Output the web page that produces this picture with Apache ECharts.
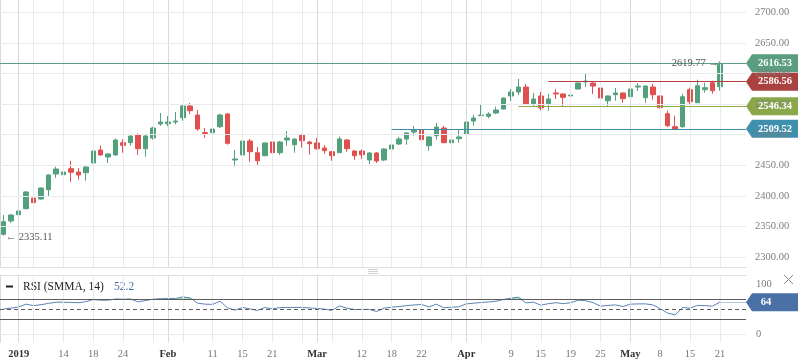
<!DOCTYPE html>
<html><head><meta charset="utf-8">
<script src="https://cdn.jsdelivr.net/npm/echarts@6/dist/echarts.min.js"></script>
<style>html,body{margin:0;padding:0;background:#fff}#c{width:798px;height:363px}</style>
</head><body><div id="c"></div>
<script>
// ---- data ----
const opens  = [2337.1,2358.9,2369.2,2379.0,2396.5,2394.8,2410.0,2435.7,2434.5,2444.4,2438.9,2437.8,2453.7,2474.9,2463.5,2466.8,2486.9,2486.9,2499.9,2477.1,2494.5,2517.4,2517.9,2520.7,2527.7,2546.8,2532.1,2503.5,2503.2,2513.0,2533.8,2458.6,2466.8,2489.6,2470.5,2465.6,2488.0,2470.5,2491.3,2483.6,2499.4,2488.0,2486.4,2478.2,2472.1,2470.5,2491.3,2473.3,2473.3,2458.6,2470.0,2458.6,2476.6,2484.7,2492.9,2504.3,2507.6,2482.0,2498.3,2510.9,2486.9,2493.4,2501.6,2522.3,2531.0,2530.0,2535.4,2541.9,2563.2,2569.7,2577.9,2550.6,2563.2,2550.6,2568.1,2566.5,2563.2,2574.6,2586.1,2584.4,2576.3,2555.5,2565.3,2568.1,2562.0,2577.9,2560.4,2577.9,2563.2,2534.3,2513.0,2513.0,2573.5,2552.2,2573.5,2584.9,2578.4];
const closes = [2357.7,2368.7,2375.2,2406.3,2388.8,2412.8,2434.1,2443.9,2438.9,2438.5,2434.1,2447.1,2473.3,2466.8,2468.4,2491.3,2482.6,2497.8,2477.1,2497.8,2510.9,2520.7,2520.7,2522.3,2546.8,2539.2,2509.3,2501.9,2509.3,2532.1,2485.9,2460.2,2489.6,2472.1,2457.4,2486.4,2470.5,2488.0,2494.5,2492.9,2490.1,2485.2,2477.1,2473.8,2465.6,2492.9,2477.1,2465.6,2467.2,2470.0,2457.0,2476.6,2483.1,2492.9,2502.7,2507.6,2491.8,2496.2,2512.5,2486.9,2491.3,2496.2,2520.7,2527.2,2532.1,2533.8,2540.3,2559.9,2569.7,2577.9,2550.6,2558.3,2543.6,2558.3,2566.5,2561.1,2564.8,2584.4,2587.7,2579.5,2559.9,2563.2,2568.1,2558.8,2574.6,2579.5,2579.5,2565.3,2544.1,2514.6,2509.3,2562.0,2553.9,2580.0,2576.8,2571.8,2616.53];
const lows   = [2335.11,2356.1,2349.6,2377.7,2374.1,2393.7,2398.6,2429.6,2417.7,2422.6,2426.4,2424.8,2450.4,2466.0,2453.7,2465.6,2470.5,2482.0,2466.8,2464.0,2491.8,2514.6,2513.7,2516.9,2522.8,2533.8,2506.5,2495.0,2502.7,2510.9,2483.6,2447.6,2466.0,2455.8,2449.9,2465.0,2462.3,2467.2,2482.0,2470.5,2478.7,2467.2,2475.4,2468.9,2457.4,2470.0,2472.1,2459.0,2460.7,2452.0,2453.7,2457.0,2466.8,2483.1,2483.6,2498.3,2485.2,2473.8,2491.8,2486.4,2485.2,2486.9,2499.9,2514.6,2530.5,2526.7,2533.8,2541.0,2555.0,2564.8,2549.6,2545.2,2539.8,2539.2,2558.3,2546.8,2559.9,2574.0,2577.9,2566.5,2558.3,2546.8,2555.5,2552.2,2557.1,2571.4,2552.2,2557.1,2543.1,2512.5,2508.1,2511.4,2548.5,2551.7,2568.6,2566.9,2571.8];
const highs  = [2368.7,2369.8,2387.1,2407.9,2403.0,2413.3,2435.2,2447.6,2439.8,2456.9,2445.5,2448.0,2474.0,2482.0,2469.0,2493.4,2492.4,2498.6,2502.2,2501.1,2513.0,2535.4,2530.5,2537.0,2548.5,2551.7,2540.3,2510.9,2520.7,2534.3,2535.4,2474.9,2490.5,2492.9,2479.8,2487.0,2492.9,2489.6,2506.0,2493.7,2501.6,2489.6,2494.5,2483.1,2473.3,2496.7,2492.9,2474.9,2475.7,2471.7,2471.7,2477.4,2488.0,2496.2,2504.3,2514.2,2508.4,2497.8,2519.0,2514.2,2496.2,2508.1,2525.6,2532.1,2548.5,2536.5,2545.7,2560.5,2574.6,2591.0,2582.8,2568.1,2569.7,2566.5,2574.6,2567.3,2567.6,2585.0,2599.2,2585.3,2584.4,2564.0,2576.3,2569.0,2579.5,2584.4,2580.4,2582.8,2564.0,2539.2,2531.0,2566.9,2576.8,2589.8,2584.9,2588.2,2619.77];
const rsi    = [50.5,52,54.5,60,57,59,61.5,64,64,63.5,63,65,69.3,68,68,70.5,70,70.5,64.6,67.3,70,71,71.3,71.3,74.6,72.5,62,60,59.5,66,52.6,48,53.3,50.5,47.3,53.3,50.6,53,53.3,53.5,53.3,52.5,51.3,50,47.3,56.6,52,49.3,49.3,49.5,45.3,52,54,55.3,57,58.5,59.3,54.5,60,52.7,54,54.6,60.6,62,63.3,64.5,66,69.5,72,74,62.6,64,58,61,63,61,63,68,67,63,56,57.5,58.5,55.3,60,60.5,60.6,58.6,51,42,38.6,53.3,52,57.5,57,56,64];

const slotCount = 100;                       // 97 bars + empty right margin
const labelIndex = [2,8,12,16,22,28,32,36,42,48,52,56,62,68,72,76,80,84,88,92,96];
const labelText  = ['2019','14','18','24','Feb','11','15','21','Mar','12','18','22','Apr','9','15','19','25','May','8','15','21'];
const majorLabels = ['2019','Feb','Mar','Apr','May'];
const gridIndexLines = [2,4,8,12,16,20,22,24,28,32,36,40,42,44,48,52,56,60,62,64,68,72,76,80,84,88,92,96];
const priceTicks = [2300,2350,2400,2450,2500,2550,2600,2650,2700];
const rsiTicks = [0,100];
const levelValues = [2616.53, 2586.56, 2546.34, 2509.52];
const levelStart  = [-1, 73, 69, 52];       // bar index where each level line starts (-1 = full width)
const levelColors = ['#5d9f80', '#b5403f', '#8fae46', '#3d8cab'];
const boxColors   = ['#5b9e7f', '#a9423f', '#8aa84a', '#3f90ae'];
const lastHighText = '2619.77';
const firstLowText = '2335.11';
const rsiReadout = '52.2';

// ---- build ----
const cats = [];
for (let i = 0; i < slotCount; i++) cats.push(String(i));
const labelMap = {};
labelIndex.forEach((k, j) => { labelMap[k] = labelText[j]; });
const candles = opens.map((o, i) => [o, closes[i], lows[i], highs[i]]);
const last = rsi.length - 1;

const UP = '#53a07d', DOWN = '#e0504e';
const GRID = '#e8eaed', GRIDM = '#d7d9dc';
const FONT = 'Liberation Serif';
const boxPath = 'path://M0,9L6,0L52,0L52,18L6,18Z';

const vLines = gridIndexLines.map(i => ({
  xAxis: i + 0.5,
  lineStyle: { color: labelMap[i] && majorLabels.includes(labelMap[i]) ? GRIDM : GRID, width: 1, type: 'solid' },
  label: { show: false }
}));

const priceLines = priceTicks.map(v => ({
  yAxis: v,
  lineStyle: { color: GRID, width: 1, type: 'solid' },
  label: { show: true, position: 'end', distance: 9, formatter: v.toFixed(2), color: '#7d7d7d', fontSize: 10.5, fontFamily: FONT }
}));

const levelLines = levelValues.map((v, k) => {
  const ls = { color: levelColors[k], width: 1, type: 'solid' };
  if (levelStart[k] < 0) return { yAxis: v, lineStyle: ls, label: { show: false } };
  return [{ coord: [levelStart[k] + 0.5, v], lineStyle: ls, label: { show: false } }, { coord: [slotCount, v] }];
});
levelLines.push([{ coord: [last + 0.5, rsi[last]], lineStyle: { color: '#b0c6e0', width: 1, type: 'solid' }, label: { show: false } }, { coord: [slotCount, rsi[last]] }]);

const levelBoxes = levelValues.map((v, k) => ({
  coord: [slotCount, v], value: v,
  symbol: boxPath, symbolSize: [52, 18], symbolOffset: [26, 0], symbolKeepAspect: false,
  itemStyle: { color: boxColors[k] },
  label: { show: true, position: 'inside', offset: [3, 0], formatter: v.toFixed(2), color: '#fff', fontWeight: 'bold', fontSize: 10.5, fontFamily: FONT }
}));

const rsiLines = [
  { yAxis: 0, lineStyle: { color: GRID, width: 1, type: 'solid' }, label: { show: true, position: 'end', distance: 10, formatter: String(rsiTicks[0]), color: '#7d7d7d', fontSize: 10.5, fontFamily: FONT } },
  { yAxis: 100, lineStyle: { color: 'rgba(0,0,0,0)', width: 1 }, label: { show: true, position: 'end', distance: 10, formatter: String(rsiTicks[1]), color: '#7d7d7d', fontSize: 10.5, fontFamily: FONT } },
  { yAxis: 70, lineStyle: { color: '#5c5c5c', width: 1, type: 'solid' }, label: { show: false } },
  { yAxis: 30, lineStyle: { color: '#5c5c5c', width: 1, type: 'solid' }, label: { show: false } },
  { yAxis: 50, lineStyle: { color: '#5c5c5c', width: 1, type: [4, 3] }, label: { show: false } }
];

const chart = echarts.init(document.getElementById('c'), null, { renderer: 'canvas' });
chart.setOption({
  animation: false,
  backgroundColor: '#ffffff',
  textStyle: { fontFamily: FONT },
  grid: [
    { left: 0, width: 746, top: 0, height: 267 },
    { left: 0, width: 746, top: 275, height: 67.3 }
  ],
  xAxis: [
    { type: 'category', gridIndex: 0, data: cats, boundaryGap: true,
      axisLine: { show: true, lineStyle: { color: '#dcdfe4' } }, axisTick: { show: false }, axisLabel: { show: false }, splitLine: { show: false } },
    { type: 'category', gridIndex: 1, data: cats, boundaryGap: true,
      axisLine: { show: true, lineStyle: { color: '#dcdfe4' } }, axisTick: { show: false }, splitLine: { show: false },
      axisLabel: {
        margin: 6,
        interval: (idx) => labelMap[idx] !== undefined,
        formatter: (val, idx) => {
          const t = labelMap[idx] || '';
          return majorLabels.includes(t) ? '{m|' + t + '}' : '{d|' + t + '}';
        },
        rich: {
          m: { fontWeight: 'bold', color: '#333', fontSize: 10.5, fontFamily: FONT },
          d: { color: '#777', fontSize: 10.5, fontFamily: FONT }
        }
      } },
    { type: 'value', gridIndex: 0, min: 0, max: slotCount, show: false },
    { type: 'value', gridIndex: 1, min: 0, max: slotCount, position: 'top',
      axisLine: { show: true, lineStyle: { color: '#dcdfe4' } }, axisTick: { show: false }, axisLabel: { show: false }, splitLine: { show: false } }
  ],
  yAxis: [
    { type: 'value', gridIndex: 0, min: 2283.7, max: 2720.1, position: 'right',
      axisLine: { show: true, lineStyle: { color: '#d6d9dd' } }, axisTick: { show: false }, axisLabel: { show: false }, splitLine: { show: false } },
    { type: 'value', gridIndex: 1, min: -16.6, max: 118.6, position: 'right',
      axisLine: { show: true, lineStyle: { color: '#d6d9dd' } }, axisTick: { show: false }, axisLabel: { show: false }, splitLine: { show: false } }
  ],
  series: [
    { // main pane grid lines + price labels
      type: 'line', xAxisIndex: 2, yAxisIndex: 0, data: [], z: 0, silent: true,
      markLine: { silent: true, symbol: ['none', 'none'], label: { show: false }, data: vLines.concat(priceLines) }
    },
    { // RSI pane grid lines
      type: 'line', xAxisIndex: 3, yAxisIndex: 1, data: [], z: 0, silent: true,
      markLine: { silent: true, symbol: ['none', 'none'], label: { show: false }, data: vLines.concat(rsiLines) }
    },
    {
      type: 'candlestick', xAxisIndex: 0, yAxisIndex: 0, data: candles, barWidth: 5, z: 2,
      itemStyle: { color: UP, color0: DOWN, borderColor: UP, borderColor0: DOWN, borderWidth: 1 },
      markPoint: {
        silent: true, symbol: 'circle', symbolSize: 0,
        data: [
          { coord: [last, highs[last]], value: highs[last], label: { show: true, position: 'left', distance: 1, offset: [0, 2], formatter: lastHighText + ' →', color: '#555', fontSize: 10.5, fontFamily: FONT } },
          { coord: [0, lows[0]], value: lows[0], label: { show: true, position: 'right', distance: 2, offset: [0, 2], formatter: '← ' + firstLowText, color: '#555', fontSize: 10.5, fontFamily: FONT } }
        ]
      }
    },
    { // level lines and price boxes
      type: 'line', xAxisIndex: 2, yAxisIndex: 0, data: [], z: 4, silent: true,
      markLine: { silent: true, symbol: ['none', 'none'], label: { show: false }, data: levelLines.slice(0, 4) },
      markPoint: { silent: true, data: levelBoxes }
    },
    { // RSI overbought fill
      type: 'line', xAxisIndex: 1, yAxisIndex: 1, data: rsi.map(v => Math.max(v, 70)), z: 2, silent: true,
      symbol: 'none', lineStyle: { width: 0, opacity: 0 }, areaStyle: { origin: 70, color: 'rgba(96,200,110,0.75)' }
    },
    {
      type: 'line', xAxisIndex: 1, yAxisIndex: 1, data: rsi, z: 3, silent: true,
      symbol: 'none', lineStyle: { color: '#5a84b8', width: 1 }
    },
    { // RSI extension and value box
      type: 'line', xAxisIndex: 3, yAxisIndex: 1, data: [], z: 4, silent: true,
      markLine: { silent: true, symbol: ['none', 'none'], label: { show: false }, data: [levelLines[4]] },
      markPoint: { silent: true, data: [{
        coord: [slotCount, rsi[last]], value: rsi[last],
        symbol: boxPath, symbolSize: [52, 18], symbolOffset: [26, 0], symbolKeepAspect: false,
        itemStyle: { color: '#4971a6' },
        label: { show: true, position: 'inside', offset: [-6, 0], formatter: String(Math.round(rsi[last])), color: '#fff', fontWeight: 'bold', fontSize: 10.5, fontFamily: FONT }
      }] }
    }
  ],
  graphic: [
    { type: 'rect', shape: { x: 6, y: 285.5, width: 7, height: 2 }, style: { fill: '#222' } },
    { type: 'text', x: 23, y: 287, style: { text: 'RSI (SMMA, 14)', fill: '#222', font: '11.5px "Liberation Serif"', textVerticalAlign: 'middle' } },
    { type: 'text', x: 114, y: 287, style: { text: rsiReadout, fill: '#4a6ea3', font: '11.5px "Liberation Serif"', textVerticalAlign: 'middle' } },
    { type: 'line', shape: { x1: 368, y1: 269.5, x2: 378, y2: 269.5 }, style: { stroke: '#cfd2d6', lineWidth: 1 } },
    { type: 'line', shape: { x1: 368, y1: 271.5, x2: 378, y2: 271.5 }, style: { stroke: '#cfd2d6', lineWidth: 1 } },
    { type: 'line', shape: { x1: 368, y1: 273.5, x2: 378, y2: 273.5 }, style: { stroke: '#cfd2d6', lineWidth: 1 } },
    { type: 'line', shape: { x1: 784, y1: 275, x2: 793, y2: 284 }, style: { stroke: '#8a8a8a', lineWidth: 1 } },
    { type: 'line', shape: { x1: 793, y1: 275, x2: 784, y2: 284 }, style: { stroke: '#8a8a8a', lineWidth: 1 } }
  ]
});
</script>
</body></html>
